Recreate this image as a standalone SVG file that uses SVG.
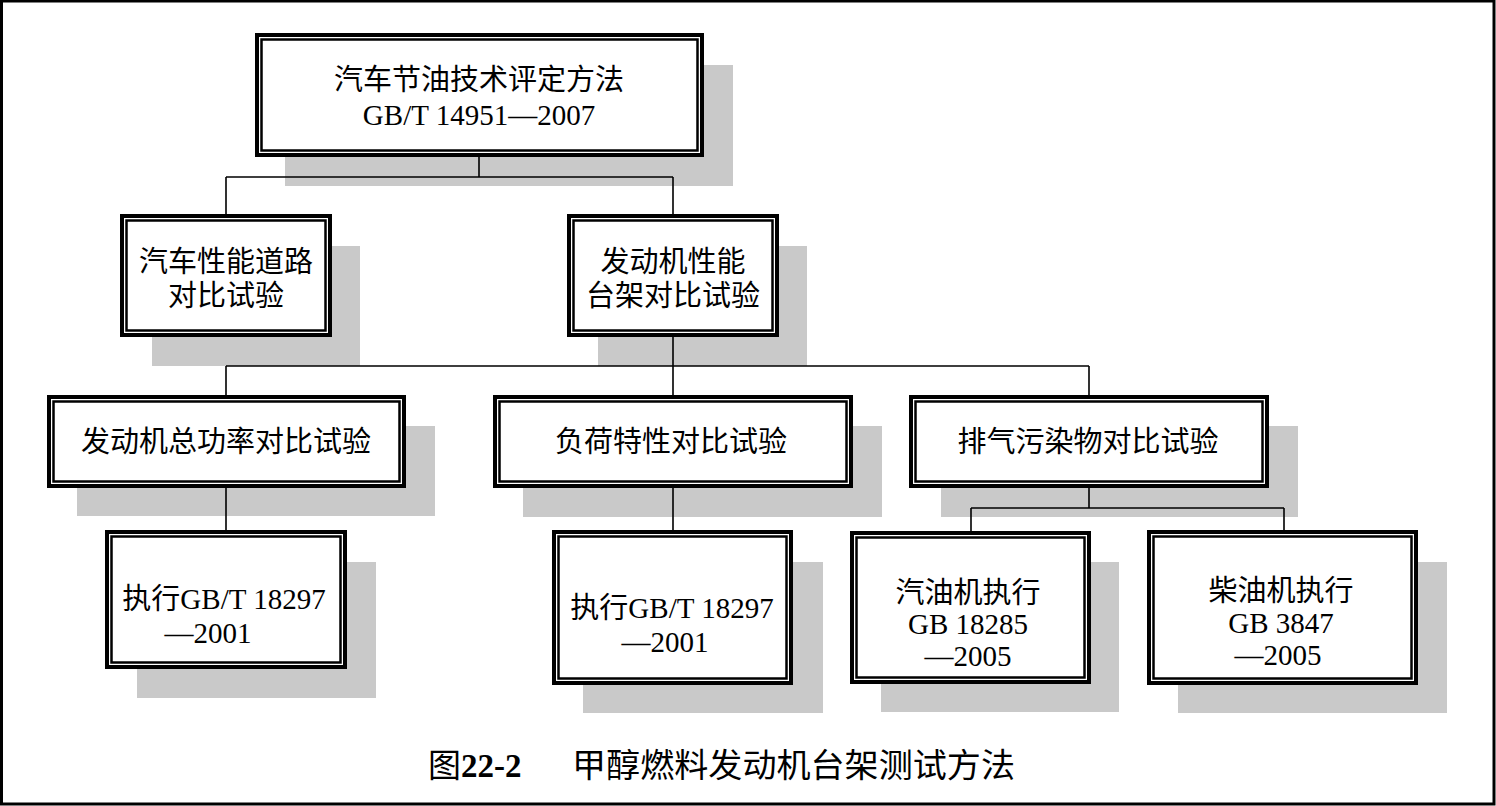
<svg xmlns="http://www.w3.org/2000/svg" width="1496" height="806" viewBox="0 0 1496 806">
<style>
.sh{fill:#c9c9c9}
.ob{fill:#fff;stroke:#000;stroke-width:4}
.ib{fill:none;stroke:#000;stroke-width:2.5}
.t{font-family:"Liberation Serif","Noto Sans CJK SC",serif;font-size:29px;fill:#000;text-anchor:middle}
.c{fill:none;stroke:#000;stroke-width:1.6}
.cap{font-family:"Liberation Serif","Noto Sans CJK SC",serif;font-size:33px;fill:#000}
</style>
<rect x="0" y="0" width="1496" height="806" fill="#fff"/>
<rect x="1.5" y="1" width="1492.5" height="803" fill="none" stroke="#000" stroke-width="3"/>
<g id="shadows">
<rect class="sh" x="285" y="65" width="448" height="121"/>
<rect class="sh" x="152" y="246" width="208" height="120"/>
<rect class="sh" x="598" y="246" width="209" height="120"/>
<rect class="sh" x="77" y="426" width="358" height="90"/>
<rect class="sh" x="523" y="426" width="359" height="91"/>
<rect class="sh" x="941" y="426" width="357" height="91"/>
<rect class="sh" x="137" y="562" width="239" height="136"/>
<rect class="sh" x="583" y="562" width="240" height="151"/>
<rect class="sh" x="881" y="562" width="238" height="150"/>
<rect class="sh" x="1178" y="562" width="269" height="151"/>
</g>
<g id="connectors">
<path class="c" d="M479 157V177M226 177H673M226 177V214M673 177V214"/>
<path class="c" d="M673 337V366M226 366H1089M226 366V395M673 366V395M1089 366V395"/>
<path class="c" d="M226 488V530M673 488V530M1089 488V508M971 508H1284M971 508V531M1284 508V530"/>
</g>
<g id="n_root">
<rect class="ob" x="257" y="35" width="445" height="120"/>
<rect class="ib" x="261.5" y="39.5" width="436" height="111"/>
<text class="t" x="479" y="90">汽车节油技术评定方法</text>
<text class="t" x="479" y="125" font-size="31">GB/T 14951—2007</text>
</g>
<g id="n_road">
<rect class="ob" x="122" y="216" width="208" height="119"/>
<rect class="ib" x="126.5" y="220.5" width="199" height="110"/>
<text class="t" x="226" y="272">汽车性能道路</text>
<text class="t" x="226" y="306">对比试验</text>
</g>
<g id="n_bench">
<rect class="ob" x="569" y="216" width="208" height="119"/>
<rect class="ib" x="573.5" y="220.5" width="199" height="110"/>
<text class="t" x="673" y="272">发动机性能</text>
<text class="t" x="673" y="306">台架对比试验</text>
</g>
<g id="n_power">
<rect class="ob" x="49" y="397" width="355" height="89"/>
<rect class="ib" x="53.5" y="401.5" width="346" height="80"/>
<text class="t" x="226" y="452">发动机总功率对比试验</text>
</g>
<g id="n_load">
<rect class="ob" x="495" y="397" width="356" height="89"/>
<rect class="ib" x="499.5" y="401.5" width="347" height="80"/>
<text class="t" x="671" y="452">负荷特性对比试验</text>
</g>
<g id="n_emis">
<rect class="ob" x="911" y="397" width="356" height="89"/>
<rect class="ib" x="915.5" y="401.5" width="347" height="80"/>
<text class="t" x="1088" y="452">排气污染物对比试验</text>
</g>
<g id="n_exec1">
<rect class="ob" x="107" y="532" width="238" height="135"/>
<rect class="ib" x="111.5" y="536.5" width="229" height="126"/>
<text class="t" x="224" y="609">执行GB/T 18297</text>
<text class="t" x="208" y="643">—2001</text>
</g>
<g id="n_exec2">
<rect class="ob" x="554" y="532" width="237" height="151"/>
<rect class="ib" x="558.5" y="536.5" width="228" height="142"/>
<text class="t" x="672" y="618">执行GB/T 18297</text>
<text class="t" x="665" y="652">—2001</text>
</g>
<g id="n_gasoline">
<rect class="ob" x="852" y="533" width="237" height="149"/>
<rect class="ib" x="856.5" y="537.5" width="228" height="140"/>
<text class="t" x="968" y="603">汽油机执行</text>
<text class="t" x="968" y="634">GB 18285</text>
<text class="t" x="968" y="666" font-size="28">—2005</text>
</g>
<g id="n_diesel">
<rect class="ob" x="1149" y="532" width="267" height="151"/>
<rect class="ib" x="1153.5" y="536.5" width="258" height="142"/>
<text class="t" x="1281" y="601">柴油机执行</text>
<text class="t" x="1281" y="633">GB 3847</text>
<text class="t" x="1278" y="665" font-size="28">—2005</text>
</g>
<g id="caption">
<text class="cap" x="428" y="777">图<tspan font-weight="bold">22-2</tspan></text>
<text class="cap" x="572" y="777" font-family="'Noto Sans CJK SC',sans-serif" textLength="443" lengthAdjust="spacingAndGlyphs">甲醇燃料发动机台架测试方法</text>
</g>
</svg>
